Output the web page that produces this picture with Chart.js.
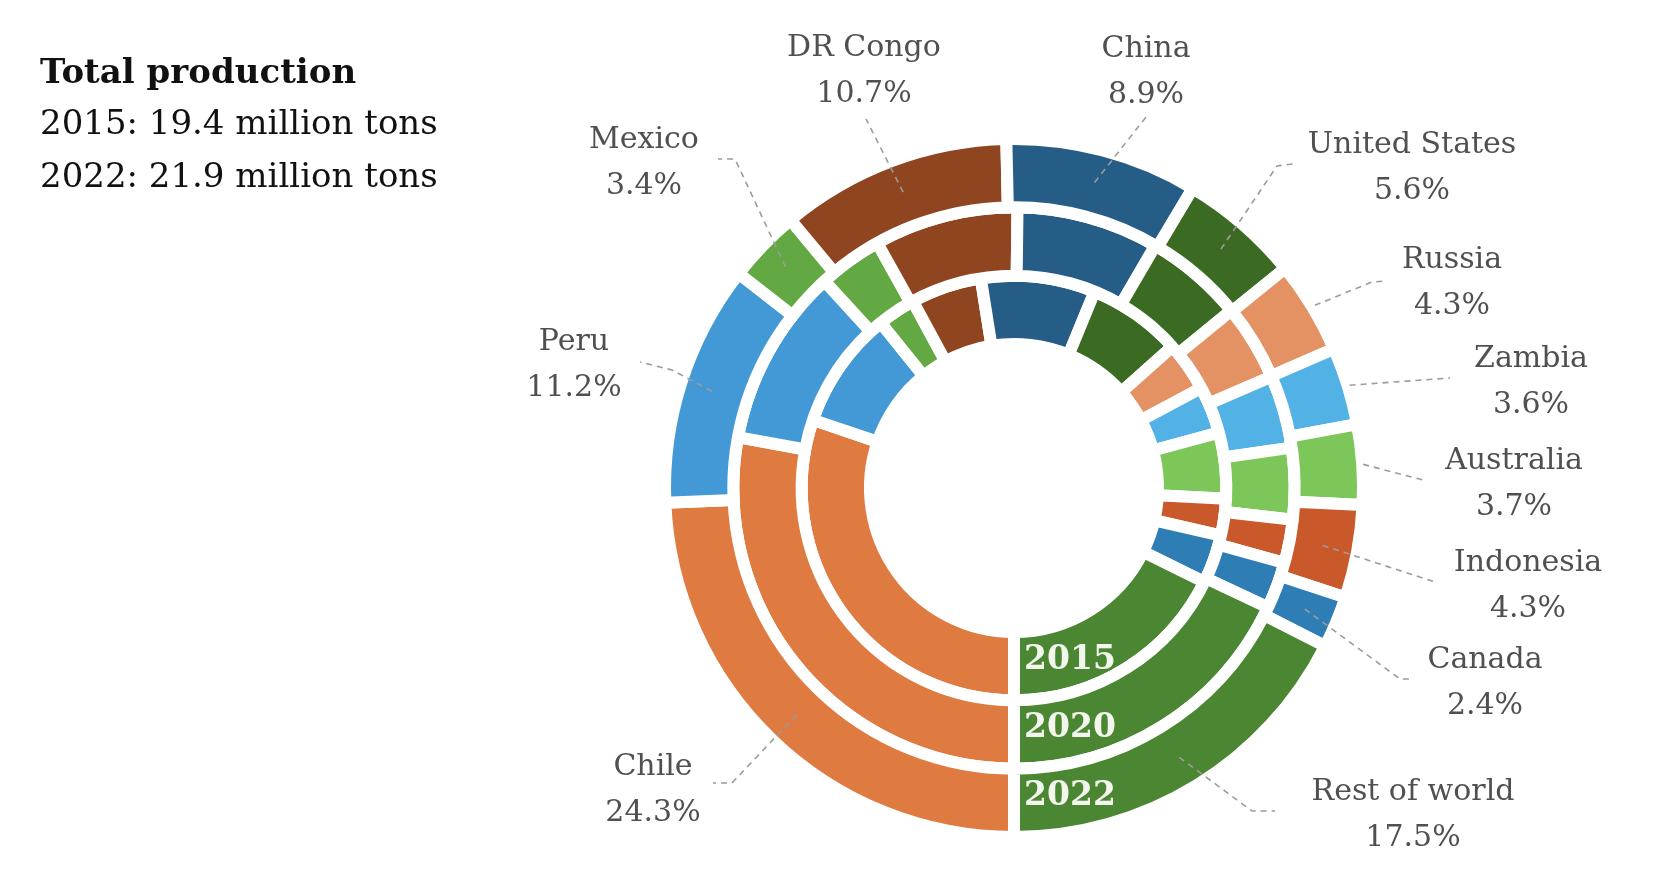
<!DOCTYPE html>
<html>
<head>
<meta charset="utf-8">
<script src="https://cdn.jsdelivr.net/npm/chart.js@4.4.1/dist/chart.umd.min.js"></script>
<style>
  html, body { margin: 0; padding: 0; background: #fff; }
  #wrap { position: relative; width: 1660px; height: 892px; }
</style>
</head>
<body>
<div id="wrap"><canvas id="chart"></canvas></div>
<script>
// clockwise from 6 o'clock
const countries = ["Chile", "Peru", "Mexico", "DR Congo", "China", "United States",
  "Russia", "Zambia", "Australia", "Indonesia", "Canada", "Rest of world"];
const share2015 = [30.2, 9.0, 2.9, 5.4, 8.7, 7.2, 3.8, 3.6, 5.0, 2.8, 3.7, 17.7];
const share2020 = [27.9, 10.3, 3.7, 8.3, 8.2, 5.7, 4.4, 4.2, 4.1, 2.5, 2.7, 18.0];
const share2022 = [24.3, 11.2, 3.4, 10.7, 8.9, 5.6, 4.3, 3.6, 3.7, 4.3, 2.4, 17.5];
const totalYears = ["2015", "2022"];
const totalMillionTons = [19.4, 21.9];

const colors = ["#df7a40", "#4299d5", "#62a843", "#8e4520", "#255d86", "#3b6a23",
  "#e49263", "#52b1e5", "#7cc65a", "#c9592a", "#2f7db5", "#4b8733"];

// leader lines + label spots, relative to the chart centre
const callouts = [
  { r: 314, path: [[-282, 295], [-301, 295]], lx: -361, ly: 279 },
  { r: 317, path: [[-342, -118], [-374, -126]], lx: -440, ly: -146 },
  { r: 318, path: [[-279, -329], [-296, -329]], lx: -370, ly: -348 },
  { r: 316, path: [[-148, -369]], lx: -150, ly: -440 },
  { r: 316, path: [[132, -371]], lx: 132, ly: -439 },
  { r: 316, path: [[263, -322], [279, -324]], lx: 398, ly: -343 },
  { r: 352, path: [[358, -206], [373, -207]], lx: 438, ly: -228 },
  { r: 351, path: [[436, -110]], lx: 517, ly: -129 },
  { r: 350, path: [[413, -7]], lx: 500, ly: -27 },
  { r: 314, path: [[421, 94]], lx: 514, ly: 75 },
  { r: 315, path: [[386, 191], [400, 191]], lx: 471, ly: 172 },
  { r: 316, path: [[238, 323], [261, 323]], lx: 399, ly: 304 }
];

const SERIF = '"DejaVu Serif", "Liberation Serif", serif';

const calloutPlugin = {
  id: "callouts",
  afterDatasetsDraw(chart) {
    const ctx = chart.ctx;
    const outer = chart.getDatasetMeta(0).data;
    ctx.save();

    // leader lines and country labels
    outer.forEach((arc, i) => {
      const { x, y, startAngle, endAngle } = arc.getProps(["x", "y", "startAngle", "endAngle"], true);
      const mid = (startAngle + endAngle) / 2;
      const c = callouts[i];
      ctx.setLineDash([6, 5]);
      ctx.strokeStyle = "#9c9c9c";
      ctx.lineWidth = 1.6;
      ctx.beginPath();
      ctx.moveTo(x + c.r * Math.cos(mid), y + c.r * Math.sin(mid));
      c.path.forEach(([dx, dy]) => ctx.lineTo(x + dx, y + dy));
      ctx.stroke();
      ctx.setLineDash([]);

      ctx.fillStyle = "#505050";
      ctx.font = "30px " + SERIF;
      ctx.textAlign = "center";
      ctx.textBaseline = "middle";
      ctx.fillText(countries[i], x + c.lx, y + c.ly);
      ctx.fillText(share2022[i].toFixed(1) + "%", x + c.lx, y + c.ly + 46);
    });

    // year names on the rest-of-world pieces
    chart.data.datasets.forEach((ds, d) => {
      const arc = chart.getDatasetMeta(d).data[countries.length - 1];
      const { x, y, innerRadius, outerRadius } = arc.getProps(["x", "y", "innerRadius", "outerRadius"], true);
      ctx.fillStyle = "#f2f6ec";
      ctx.font = "bold 33px " + SERIF;
      ctx.textAlign = "left";
      ctx.textBaseline = "middle";
      ctx.fillText(ds.label, x + 10, y + (innerRadius + outerRadius) / 2 - 6);
    });

    // total production block
    ctx.fillStyle = "#111111";
    ctx.textAlign = "left";
    ctx.textBaseline = "alphabetic";
    ctx.font = "bold 34px " + SERIF;
    ctx.fillText("Total production", 40, 83);
    ctx.font = "34px " + SERIF;
    totalYears.forEach((yr, i) => {
      ctx.fillText(yr + ": " + totalMillionTons[i].toFixed(1) + " million tons", 40, 134 + i * 53);
    });

    ctx.restore();
  }
};

function ring(label, data) {
  return {
    label: label,
    data: data,
    backgroundColor: colors,
    borderColor: "#ffffff",
    borderWidth: 12,
    borderJoinStyle: "miter",
    hoverOffset: 0,
    hoverBorderWidth: 12
  };
}

new Chart(document.getElementById("chart"), {
  type: "doughnut",
  data: {
    labels: countries,
    datasets: [ring("2022", share2022), ring("2020", share2020), ring("2015", share2015)]
  },
  options: {
    responsive: true,
    maintainAspectRatio: false,
    animation: false,
    events: [],
    rotation: 180,
    cutout: 144,
    layout: { padding: { left: 659, top: 133, right: 291, bottom: 49 } },
    plugins: {
      legend: { display: false },
      tooltip: { enabled: false }
    }
  },
  plugins: [calloutPlugin]
});
</script>
</body>
</html>
